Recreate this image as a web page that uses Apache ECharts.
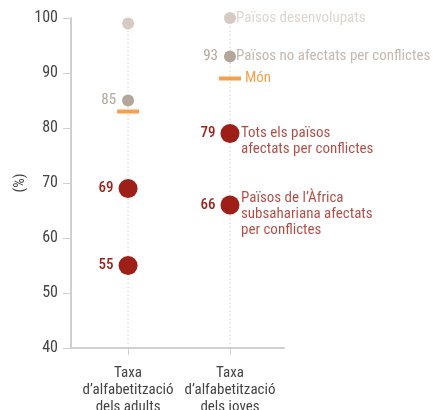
<!DOCTYPE html>
<html><head><meta charset="utf-8">
<script src="https://cdn.jsdelivr.net/npm/echarts@6/dist/echarts.min.js"></script>
<style>html,body{margin:0;padding:0;background:#fff}#c{width:434px;height:410px}</style>
</head><body><div id="c"></div>
<script>
var categories = ['Taxa\nd’alfabetització\ndels adults', 'Taxa\nd’alfabetització\ndels joves'];
var groups = ['Països desenvolupats', 'Països no afectats per conflictes', 'Tots els països\nafectats per conflictes', 'Països de l’Àfrica\nsubsahariana afectats\nper conflictes'];
var adults = [99, 85, 69, 55];
var youth = [100, 93, 79, 66];
var world = [83, 89];
var worldLabel = 'Món';
var yMin = 40, yMax = 100, yInterval = 10;

var F = "'Liberation Sans Narrow','Roboto Condensed','Arial Narrow',sans-serif";
var colors = ['#d6cbc2', '#b3a79b', '#9e1f17', '#9e1f17'];
var sizes = [12, 12, 19, 19];
var labelOffsets = [[0, 0], [0, 0], [0, 8], [0, 9]];
var xPos = [1, 2];

var series = [];
[adults, youth].forEach(function (arr, i) {
  series.push({
    type: 'line', data: [[xPos[i], yMin], [xPos[i], Math.max.apply(null, arr)]],
    symbol: 'none', silent: true, z: 1,
    lineStyle: { color: '#cfcfcf', width: 1, type: [1.5, 2.5] }
  });
});
groups.forEach(function (g, gi) {
  series.push({
    type: 'scatter', z: 3,
    symbolSize: sizes[gi],
    itemStyle: { color: colors[gi], opacity: 1 },
    data: [[xPos[0], adults[gi]], [xPos[1], youth[gi]]],
    label: {
      show: gi > 0, position: 'left', distance: gi > 1 ? 5 : 6,
      formatter: function (p) { return p.value[1]; },
      color: colors[gi], fontFamily: F, fontSize: 15, fontWeight: gi > 1 ? 500 : 'normal'
    }
  });
  series.push({
    type: 'scatter', z: 4, symbolSize: 0,
    data: [{ value: [xPos[1], youth[gi]] }],
    label: {
      show: true, position: 'right', distance: gi > 1 ? 11 : 6,
      formatter: g, offset: labelOffsets[gi],
      color: colors[gi], fontFamily: F, fontSize: 15, lineHeight: 16
    }
  });
});
series.push({
  type: 'scatter', z: 5, symbol: 'rect', symbolSize: [22, 4],
  itemStyle: { color: '#f18a22' },
  data: [[xPos[0], world[0]], [xPos[1], world[1]]],
  label: {
    show: true, position: 'right', distance: 4,
    formatter: function (p) { return p.dataIndex === 1 ? worldLabel : ''; },
    color: '#f18a22', fontFamily: F, fontSize: 15
  }
});

var chart = echarts.init(document.getElementById('c'));
chart.setOption({
  animation: false,
  grid: { left: 71, right: 150, top: 18, bottom: 62, containLabel: false, outerBoundsMode: 'none' },
  xAxis: {
    type: 'value', min: 0.44, max: 2.53,
    axisLine: { show: true, lineStyle: { color: '#cfcfcf', width: 2 } },
    axisTick: { show: true, customValues: xPos, length: 7, lineStyle: { color: '#cfcfcf' } },
    axisLabel: {
      show: true, customValues: xPos, margin: 17,
      formatter: function (v) { return categories[Math.round(v) - 1]; },
      color: '#444', fontFamily: F, fontSize: 15, lineHeight: 17
    },
    splitLine: { show: false }
  },
  yAxis: {
    type: 'value', min: yMin, max: yMax, interval: yInterval,
    name: '(%)', nameLocation: 'middle', nameGap: 43,
    nameTextStyle: { color: '#444', fontFamily: F, fontSize: 15 },
    axisLine: { show: true, lineStyle: { color: '#cfcfcf', width: 2 } },
    axisTick: { show: true, length: 8, lineStyle: { color: '#cfcfcf' } },
    axisLabel: { color: '#444', fontFamily: F, fontSize: 16, margin: 13 },
    splitLine: { show: false }
  },
  series: series
});
</script></body></html>
